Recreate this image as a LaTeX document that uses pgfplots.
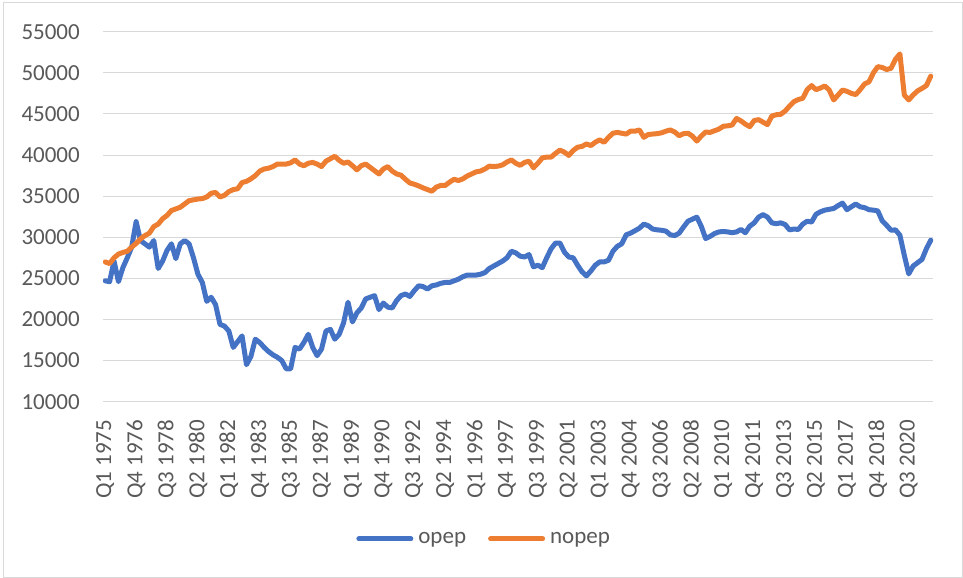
\documentclass[border=0pt]{standalone}
\usepackage{pgfplots}
\usepackage{pgfplotstable}
\usepackage{fontspec}
\setmainfont{Carlito}
\pgfplotsset{compat=1.18}
\definecolor{cblue}{HTML}{4472C4}
\definecolor{corange}{HTML}{ED7D31}
\definecolor{cgrid}{HTML}{D9D9D9}
\definecolor{ctext}{HTML}{595959}
\pgfplotstableread{
i opep nopep
0 24700 27000
1 24600 26800
2 27100 27500
3 24600 27950
4 26300 28150
5 27500 28300
6 28800 28800
7 31900 29250
8 29600 29800
9 29200 30200
10 28800 30500
11 29600 31300
12 26200 31600
13 27100 32250
14 28400 32650
15 29200 33250
16 27400 33450
17 29200 33650
18 29600 34050
19 29200 34450
20 27500 34550
21 25500 34650
22 24500 34700
23 22200 34900
24 22700 35350
25 21800 35450
26 19400 34900
27 19200 35100
28 18600 35550
29 16600 35800
30 17300 35900
31 18000 36650
32 14500 36800
33 15500 37100
34 17600 37500
35 17200 38050
36 16600 38300
37 16100 38400
38 15700 38600
39 15400 38900
40 15000 38900
41 14000 38900
42 14000 39050
43 16600 39400
44 16400 38900
45 17200 38700
46 18200 39000
47 16600 39100
48 15600 38900
49 16400 38600
50 18600 39250
51 18800 39550
52 17600 39850
53 18200 39350
54 19600 39000
55 22100 39150
56 19700 38700
57 20800 38200
58 21400 38700
59 22500 38900
60 22700 38500
61 22900 38100
62 21200 37700
63 22000 38300
64 21500 38600
65 21400 38050
66 22300 37700
67 22900 37550
68 23100 37050
69 22800 36600
70 23500 36450
71 24100 36250
72 24000 36000
73 23700 35800
74 24100 35600
75 24200 36100
76 24400 36300
77 24500 36300
78 24500 36700
79 24700 37050
80 24900 36900
81 25200 37100
82 25400 37450
83 25400 37700
84 25400 37950
85 25500 38050
86 25700 38300
87 26200 38650
88 26500 38600
89 26800 38650
90 27100 38800
91 27500 39150
92 28300 39400
93 28100 39000
94 27700 38750
95 27600 39100
96 27900 39250
97 26400 38450
98 26600 39000
99 26300 39650
100 27500 39750
101 28600 39750
102 29300 40200
103 29300 40600
104 28200 40350
105 27600 39950
106 27500 40550
107 26600 40950
108 25800 41050
109 25300 41350
110 25900 41150
111 26600 41550
112 27000 41850
113 27000 41550
114 27200 42150
115 28300 42650
116 28900 42750
117 29200 42650
118 30300 42550
119 30500 42900
120 30800 42900
121 31100 43050
122 31600 42150
123 31400 42500
124 31000 42550
125 30900 42600
126 30850 42700
127 30750 42900
128 30300 43050
129 30200 42800
130 30500 42350
131 31250 42600
132 31950 42650
133 32200 42300
134 32450 41700
135 31350 42300
136 29850 42800
137 30100 42750
138 30450 42950
139 30650 43150
140 30700 43500
141 30650 43550
142 30550 43650
143 30650 44450
144 30950 44150
145 30550 43750
146 31350 43450
147 31750 44200
148 32450 44300
149 32750 44000
150 32450 43700
151 31750 44750
152 31650 44900
153 31750 44950
154 31550 45350
155 30900 45950
156 31000 46500
157 30950 46750
158 31600 46900
159 31950 47950
160 31850 48450
161 32800 47950
162 33100 48150
163 33300 48400
164 33400 47900
165 33500 46700
166 33850 47300
167 34150 47900
168 33350 47750
169 33700 47500
170 34050 47350
171 33700 47950
172 33600 48650
173 33350 48900
174 33300 50000
175 33200 50750
176 32000 50650
177 31450 50400
178 30850 50550
179 30900 51650
180 30250 52300
181 27800 47300
182 25550 46700
183 26500 47300
184 26900 47800
185 27300 48100
186 28600 48450
187 29650 49600
}\datatable
\begin{document}
\begin{tikzpicture}
\useasboundingbox (0,0) rectangle (963bp,578bp);
\draw[cgrid, line width=1bp] (3bp,1bp) rectangle (962bp,575bp);
\begin{axis}[
  at={(103bp,176.3bp)}, anchor=south west,
  scale only axis, width=830bp, height=370bp,
  xmin=-0.5, xmax=187.5, ymin=10000, ymax=55000,
  ytick={10000,15000,...,55000},
  scaled y ticks=false,
  xtick={0,7,...,182},
  xticklabels={Q1 1975,Q4 1976,Q3 1978,Q2 1980,Q1 1982,Q4 1983,Q3 1985,Q2 1987,Q1 1989,Q4 1990,Q3 1992,Q2 1994,Q1 1996,Q4 1997,Q3 1999,Q2 2001,Q1 2003,Q4 2004,Q3 2006,Q2 2008,Q1 2010,Q4 2011,Q3 2013,Q2 2015,Q1 2017,Q4 2018,Q3 2020},
  ymajorgrids, major grid style={cgrid, line width=1bp},
  axis line style={draw=none},
  major tick length=0pt,
  /pgf/number format/assume math mode=true,
  /pgf/number format/1000 sep={},
  yticklabel={\pgfmathprintnumber[fixed,precision=0,1000 sep={}]{\tick}},
  tick label style={font=\fontsize{23bp}{26bp}\selectfont, text=ctext, inner sep=0pt},
  yticklabel style={anchor=east},
  yticklabel shift=23bp,
  xticklabel style={rotate=90, anchor=east},
  xticklabel shift=18bp,
  legend columns=-1,
  legend style={at={(0.458,-0.371)}, anchor=center, draw=none, fill=none,
    font=\fontsize{23bp}{26bp}\selectfont, text=ctext,
    nodes={inner sep=0pt},
    /tikz/every even column/.append style={column sep=22bp},
    /tikz/every odd column/.append style={column sep=5bp}},
  legend image code/.code={\draw[#1, line cap=round] (0bp,0bp) -- (52bp,0bp);},
  every axis plot/.append style={line width=5bp, line join=round, line cap=round, mark=none},
]
\addplot[cblue] table[x=i, y=opep] {\datatable};
\addlegendentry{opep}
\addplot[corange] table[x=i, y=nopep] {\datatable};
\addlegendentry{nopep}
\end{axis}
\end{tikzpicture}
\end{document}
